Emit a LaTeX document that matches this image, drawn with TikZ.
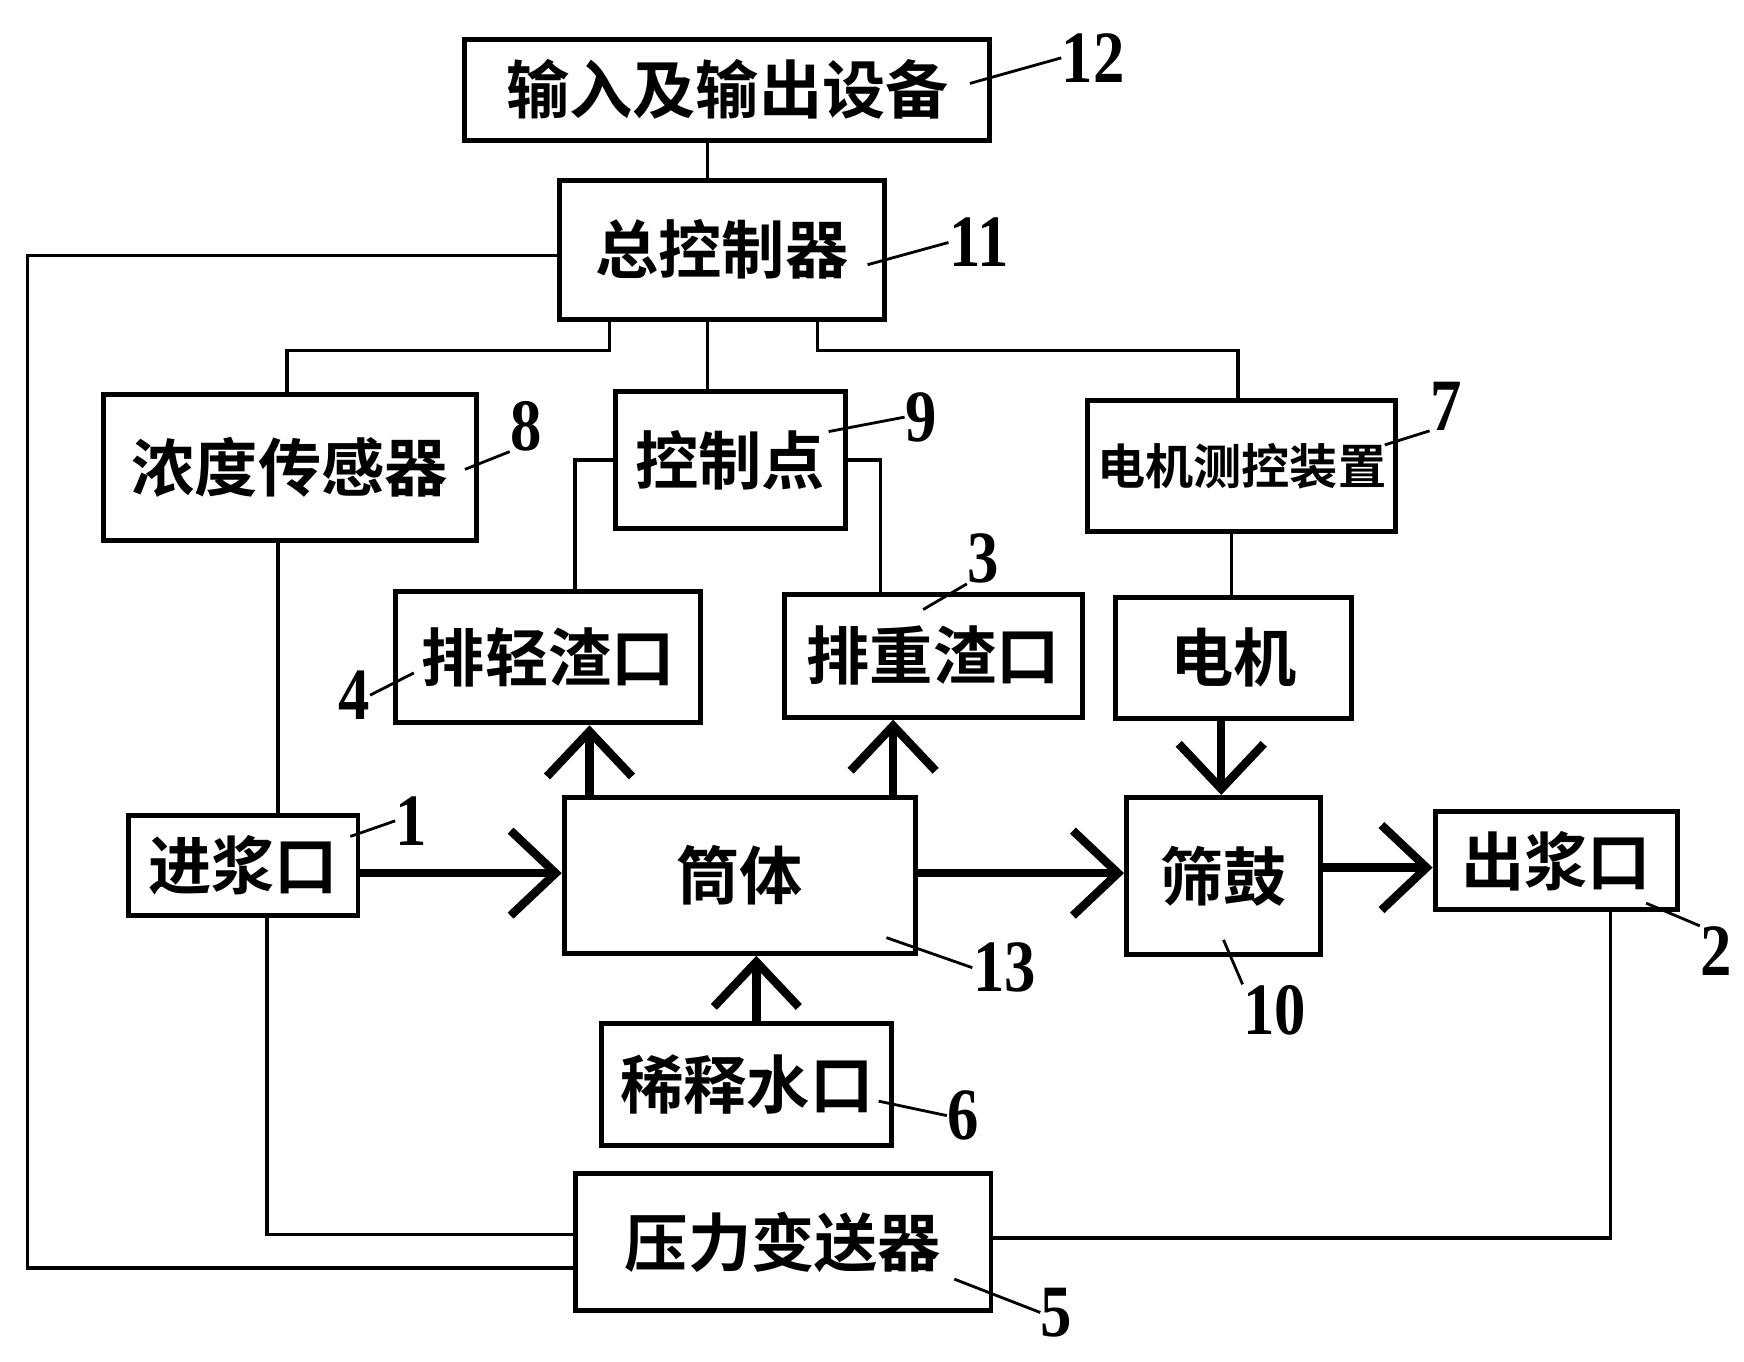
\documentclass[tikz,border=0pt]{standalone}
\usepackage{fontspec}
\setmainfont{Noto Sans CJK SC}[BoldFont={Noto Sans CJK SC Bold}]
\newfontfamily\numfont[FakeStretch=0.85]{Liberation Serif}
\usepackage{tikz}
\usetikzlibrary{arrows.meta, positioning, calc}

\begin{document}
\begin{tikzpicture}[
    x=0.011122cm, y=-0.011122cm,
    every node/.style={align=center},
    blk/.style={draw=black, line width=1.4pt, inner xsep=2pt, font=\fontsize{18}{20}\selectfont\bfseries},
    numlbl/.style={inner sep=0pt, font=\numfont\bfseries\fontsize{21}{22}\selectfont},
    wire/.style={line width=0.9pt, color=black},
    lead/.style={line width=0.8pt, color=black},
    flow/.style={-{Straight Barb[length=4.5mm, width=8.5mm]}, line width=2.4pt, color=black}
]
\useasboundingbox (0,0) rectangle (1568,1224);

% Top: I/O and main controller
\node[blk, minimum width=5.25cm, minimum height=1.01cm] (io) at (654,80.5) {输入及输出设备};
\node[blk, minimum width=3.25cm, minimum height=1.39cm] (ctrl) at (649,224.5) {总控制器};

% Row 2: sensor, control point, motor monitor
\node[blk, minimum width=3.73cm, minimum height=1.46cm] (dens) at (260.5,420.5) {浓度传感器};
\node[blk, minimum width=2.30cm, minimum height=1.37cm] (cpt) at (656.5,413.5) {控制点};
\node[blk, minimum width=3.08cm, minimum height=1.31cm, inner xsep=1pt, font=\fontsize{13.7}{15}\selectfont\bfseries] (motc) at (1116.5,419) {电机测控装置};

% Row 3: reject outlets and motor
\node[blk, minimum width=3.05cm, minimum height=1.31cm] (light) at (493,591) {排轻渣口};
\node[blk, minimum width=2.98cm, minimum height=1.23cm] (heavy) at (839,589.5) {排重渣口};
\node[blk, minimum width=2.36cm, minimum height=1.21cm] (motor) at (1109,591.5) {电机};

% Row 4: main flow
\node[blk, minimum width=2.30cm, minimum height=1.00cm] (inlet) at (218.5,778) {进浆口};
\node[blk, minimum width=3.51cm, minimum height=1.56cm] (drum) at (665,787) {筒体};
\node[blk, minimum width=1.94cm, minimum height=1.57cm] (screen) at (1100,787.5) {筛鼓};
\node[blk, minimum width=2.42cm, minimum height=0.98cm] (outlet) at (1399,774) {出浆口};

% Bottom: dilution water and pressure transmitter
\node[blk, minimum width=2.90cm, minimum height=1.22cm] (water) at (671.5,975) {稀释水口};
\node[blk, minimum width=4.16cm, minimum height=1.37cm] (press) at (704,1116.5) {压力变送器};

% Reference numbers
\node[numlbl] (n12) at (983,52) {12};
\node[numlbl] (n11) at (880,218) {11};
\node[numlbl] (n8) at (473,383) {8};
\node[numlbl] (n9) at (828,375) {9};
\node[numlbl] (n7) at (1300,365) {7};
\node[numlbl] (n3) at (884,502) {3};
\node[numlbl] (n4) at (318,625) {4};
\node[numlbl] (n1) at (370,738) {1};
\node[numlbl] (n13) at (903,870) {13};
\node[numlbl] (n10) at (1146,908) {10};
\node[numlbl] (n2) at (1543,855) {2};
\node[numlbl] (n6) at (866,1003) {6};
\node[numlbl] (n5) at (950,1180) {5};

% Signal lines
\draw[wire] (io.south -| 636,0) -- (ctrl.north -| 636,0);
\draw[wire] (ctrl.south -| 548,0) -- ++(0,26) -| (dens.north -| 258,0);
\draw[wire] (ctrl.south -| 636,0) -- (cpt.north -| 636,0);
\draw[wire] (ctrl.south -| 735,0) -- ++(0,26) -| (motc.north -| 1113,0);
\draw[wire] (cpt.west) -| (light.north -| 517,0);
\draw[wire] (cpt.east) -| (heavy.north -| 792,0);
\draw[wire] (dens.south -| 250,0) -- (inlet.north -| 250,0);
\draw[wire] (motc.south -| 1107,0) -- (motor.north -| 1107,0);
\draw[wire] (ctrl.west |- 0,230) -- (25,230) |- (press.west |- 0,1140);
\draw[wire] (inlet.south -| 240,0) |- (press.west |- 0,1110);
\draw[wire] (outlet.south -| 1448,0) |- (press.east |- 0,1113);

% Material flow
\draw[flow] (inlet.east |- 0,785) -- (drum.west |- 0,785);
\draw[flow] (drum.east |- 0,785) -- (screen.west |- 0,785);
\draw[flow] (screen.east |- 0,780) -- (outlet.west |- 0,780);
\draw[flow] (drum.north -| 530,0) -- (light.south -| 530,0);
\draw[flow] (drum.north -| 803,0) -- (heavy.south -| 803,0);
\draw[flow] (water.north -| 680,0) -- (drum.south -| 680,0);
\draw[flow] (motor.south -| 1098,0) -- (screen.north -| 1098,0);

% Leader lines
\draw[lead] (872,75) -- (n12.west);
\draw[lead] (780,238) -- (n11.west);
\draw[lead] (418,422) -- (n8.south west);
\draw[lead] (745,388) -- (n9.west);
\draw[lead] (1245,400) -- (n7.south west);
\draw[lead] (830,548) -- (n3.south west);
\draw[lead] (n4.east) -- (372,605);
\draw[lead] (315,752) -- (n1.west);
\draw[lead] (797,843) -- (n13.west);
\draw[lead] (1100,845) -- (n10.north west);
\draw[lead] (1480,812) -- (n2.north west);
\draw[lead] (790,990) -- (n6.west);
\draw[lead] (858,1150) -- (n5.west);

\end{tikzpicture}
\end{document}
